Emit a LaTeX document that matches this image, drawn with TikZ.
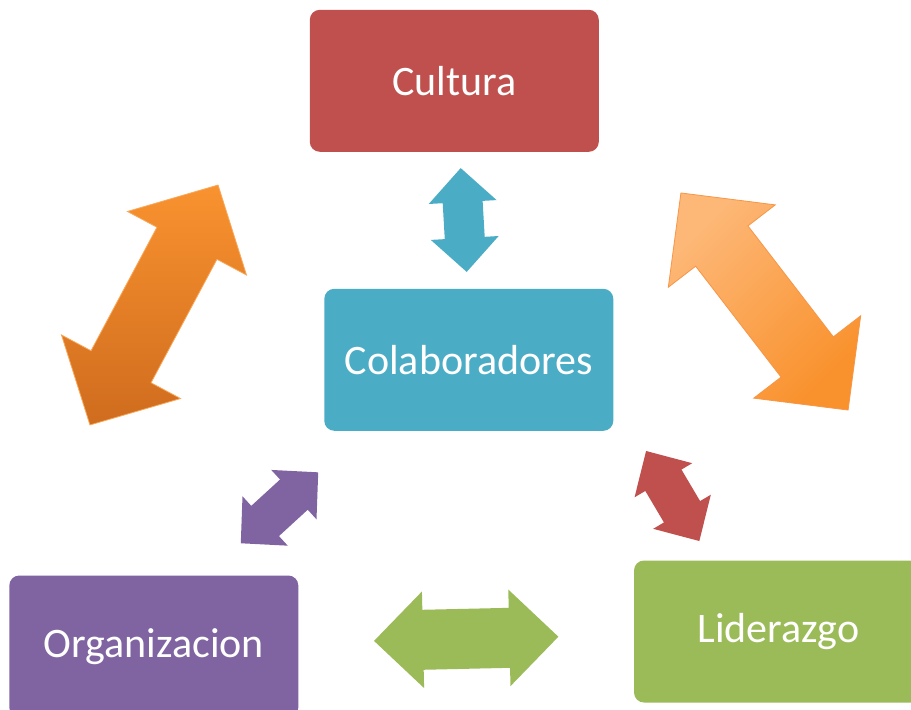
\documentclass[tikz,border=0pt]{standalone}
\usepackage{fontspec}
\setmainfont{Carlito}
\usetikzlibrary{calc}

\definecolor{cRed}{HTML}{C0504D}
\definecolor{cTeal}{HTML}{4BACC6}
\definecolor{cPurple}{HTML}{8064A2}
\definecolor{cGreen}{HTML}{9BBB59}
\definecolor{cOrangeA}{HTML}{F9922F}
\definecolor{cOrangeB}{HTML}{CF6C1E}
\definecolor{cOrangeC}{HTML}{FDB878}
\definecolor{cOrangeD}{HTML}{F9912C}
\definecolor{cOrangeLine}{HTML}{F79646}

\tikzset{
  box/.style={rounded corners=10pt, minimum width=289pt, minimum height=142pt,
    text=white, inner sep=0pt, font=\fontsize{42}{50}\selectfont},
  flatarrow/.style={fill=#1, draw=none},
}

% double-headed block arrow: #1 style, #2 centre, #3 angle,
% #4 half length, #5 half shaft width, #6 half head width, #7 head length
\newcommand{\blockarrow}[7]{%
  \path[#1, shift={#2}, rotate=#3]
    ({-#4},0) -- ({-#4+#7},{#6}) -- ({-#4+#7},{#5}) -- ({#4-#7},{#5})
    -- ({#4-#7},{#6}) -- ({#4},0) -- ({#4-#7},{-#6}) -- ({#4-#7},{-#5})
    -- ({-#4+#7},{-#5}) -- ({-#4+#7},{-#6}) -- cycle;}

\begin{document}
\begin{tikzpicture}[x=1pt, y=-1pt]
  \useasboundingbox (0,0) rectangle (911,710);
  \clip (0,0) rectangle (911,710);

  % boxes
  \node[box, fill=cRed]    (cultura) at (454.3,80.8)  {Cultura};
  \node[box, fill=cTeal]   (colab)   at (468.8,359.8) {Colaboradores};
  \node[box, fill=cPurple] (organ)   at (153.8,646.5) {Organizacion};
  \node[box, fill=cGreen]  (lider)   at (778.5,631.5) {Liderazgo};

  % arrow centres
  \coordinate (aCulOrg) at (154,305);
  \coordinate (aCulLid) at (764.5,301.5);
  \coordinate (aCulCol) at (463.7,220);
  \coordinate (aColOrg) at (279.5,507.8);
  \coordinate (aColLid) at (672.7,496);
  \coordinate (aOrgLid) at (466.2,638.8);

  % large orange arrows
  \blockarrow{top color=cOrangeA, bottom color=cOrangeB, draw=cOrangeA!80!white, line width=0.8pt}
    {(aCulOrg)}{61.9}{136}{34}{67.5}{66}
  \blockarrow{top color=cOrangeC, bottom color=cOrangeD, shading angle=45, draw=cOrangeLine, line width=0.8pt}
    {(aCulLid)}{-52.4}{137}{33}{67.5}{67}

  % small arrows
  \blockarrow{flatarrow=cTeal}{(aCulCol)}{93.3}{52}{20}{34}{34}
  \blockarrow{flatarrow=cPurple}{(aColOrg)}{42.5}{52.5}{20.5}{33.5}{33}
  \blockarrow{flatarrow=cRed}{(aColLid)}{120.6}{52.3}{21}{33.5}{34}
  \blockarrow{flatarrow=cGreen}{(aOrgLid)}{1.3}{92.2}{30}{48.3}{49}
\end{tikzpicture}
\end{document}
